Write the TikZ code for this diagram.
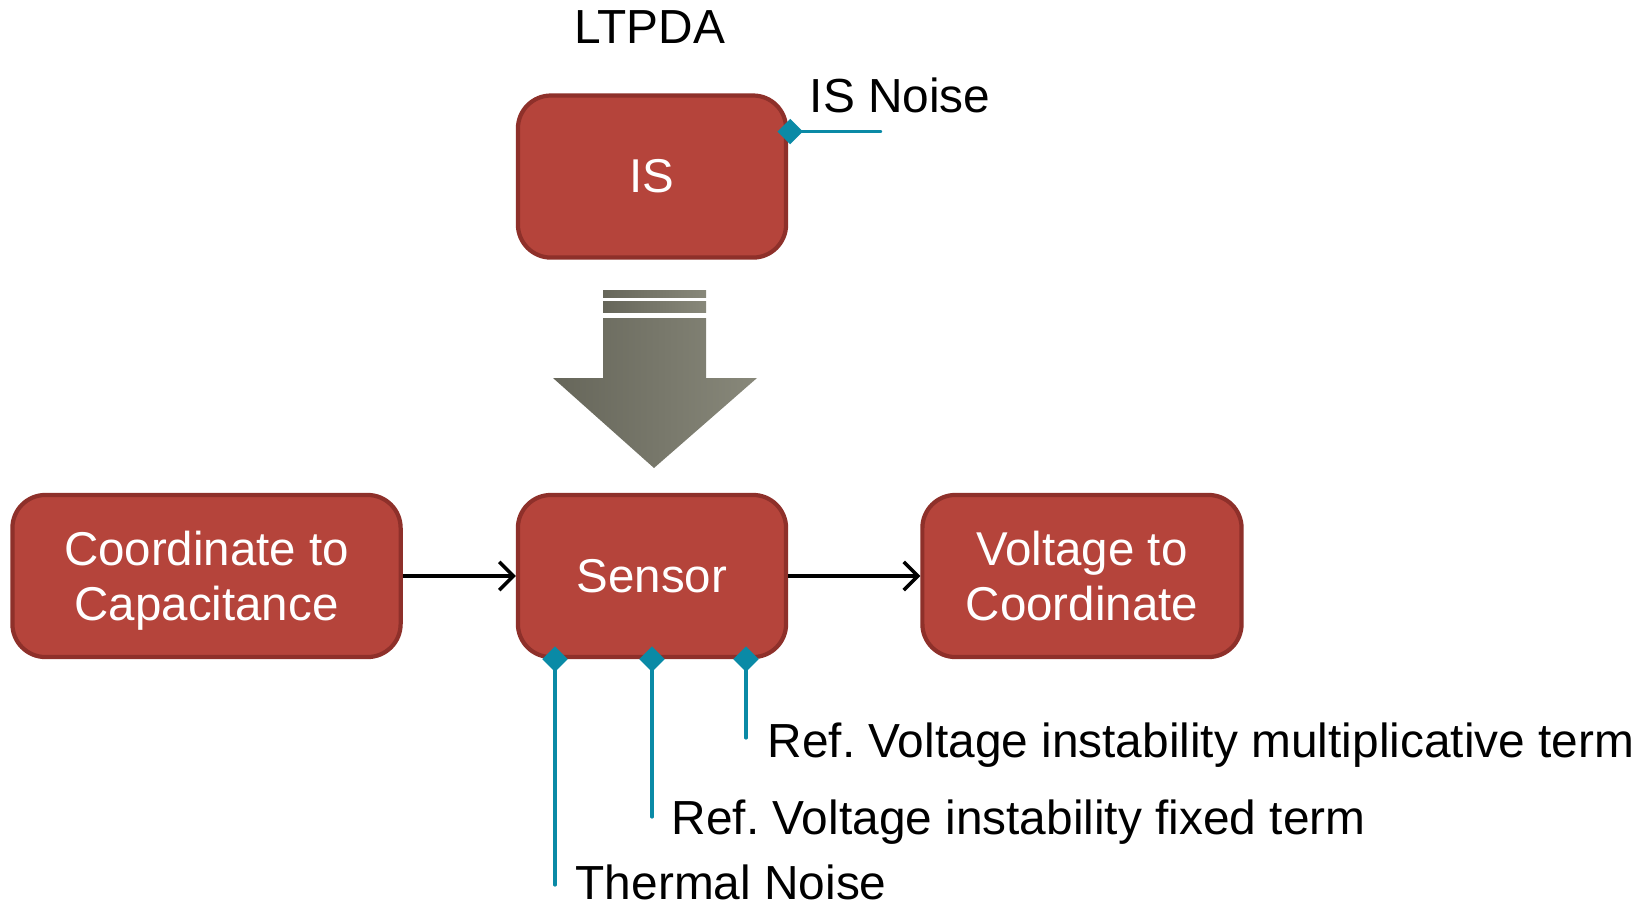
\documentclass[tikz,border=0pt]{standalone}
\usepackage{fontspec}
\setmainfont{Liberation Sans}
\usepackage{xcolor}
\usepackage{tikz}
\usetikzlibrary{arrows.meta, positioning, shapes.geometric, calc}
\definecolor{boxred}{HTML}{B5443B}
\definecolor{boxedge}{HTML}{8E302A}
\definecolor{noiseteal}{HTML}{0A8AA6}
\definecolor{arrowdark}{HTML}{66665A}
\definecolor{arrowlight}{HTML}{88887A}
\frenchspacing

\begin{document}
\begin{tikzpicture}[
    x=0.01cm, y=-0.01cm,
    node distance=2.33cm and 1.13cm,
    block/.style={draw=boxedge, fill=boxred, line width=1.2pt, rounded corners=0.33cm, minimum width=2.68cm, minimum height=1.62cm, align=center, text=white, font=\fontsize{13.5}{15.8}\selectfont},
    tag/.style={anchor=base west, inner sep=0pt, font=\fontsize{13.6}{16}\selectfont},
    noisepin/.style={diamond, fill=noiseteal, minimum size=0.26cm, inner sep=0pt},
    noise/.style={draw=noiseteal, line width=0.9pt, line cap=round},
    >={Straight Barb[length=4pt, width=8pt]}
]
    \useasboundingbox (0,0) rectangle (1648,906);

    \node[block] (sensor) at (652,576) {Sensor};
    \node[block, above=of sensor] (is) {IS};
    \node[block, minimum width=3.88cm, text depth=0pt, left=of sensor] (c2c) {Coordinate to\\Capacitance};
    \node[block, minimum width=3.19cm, right=1.32cm of sensor] (v2c) {Voltage to\\Coordinate};

    \node[anchor=base, inner sep=0pt, font=\fontsize{13.6}{16}\selectfont] (ltpda) at (650,43) {LTPDA};

    \draw[->, line width=1pt] (c2c) -- (sensor);
    \draw[->, line width=1pt] (sensor) -- (v2c);

    \shade[left color=arrowdark, right color=arrowlight] (603,290) rectangle (706,297);
    \shade[left color=arrowdark, right color=arrowlight] (603,301) rectangle (706,312);
    \shade[left color=arrowdark, right color=arrowlight] (603,318) -- (706,318) -- (706,378) -- (757,378)
        -- (654,468) -- (553,378) -- (603,378) -- cycle;

    \node[noisepin] (isp) at ($(is.east)+(2,-45)$) {};
    \node[noisepin] (thp) at ($(sensor.south)+(-97,0)$) {};
    \node[noisepin] (fxp) at (sensor.south) {};
    \node[noisepin] (mup) at ($(sensor.south)+(94,0)$) {};

    \coordinate (isend) at ($(isp)+(90,0)$);
    \coordinate (thend) at (555,885);
    \coordinate (fxend) at (652,817);
    \coordinate (muend) at (746,738);

    \draw[noise, line width=1.1pt] (isp.center) -- (isend);
    \draw[noise] (thp.center) -- (thend);
    \draw[noise] (fxp.center) -- (fxend);
    \draw[noise] (mup.center) -- (muend);

    \node[tag] (isnoise) at (809,112) {IS Noise};
    \node[tag] (mult) at (767,757) {Ref. Voltage instability multiplicative term};
    \node[tag] (fixed) at (671,834) {Ref. Voltage instability fixed term};
    \node[tag] (thermal) at (575,899) {Thermal Noise};
\end{tikzpicture}
\end{document}
